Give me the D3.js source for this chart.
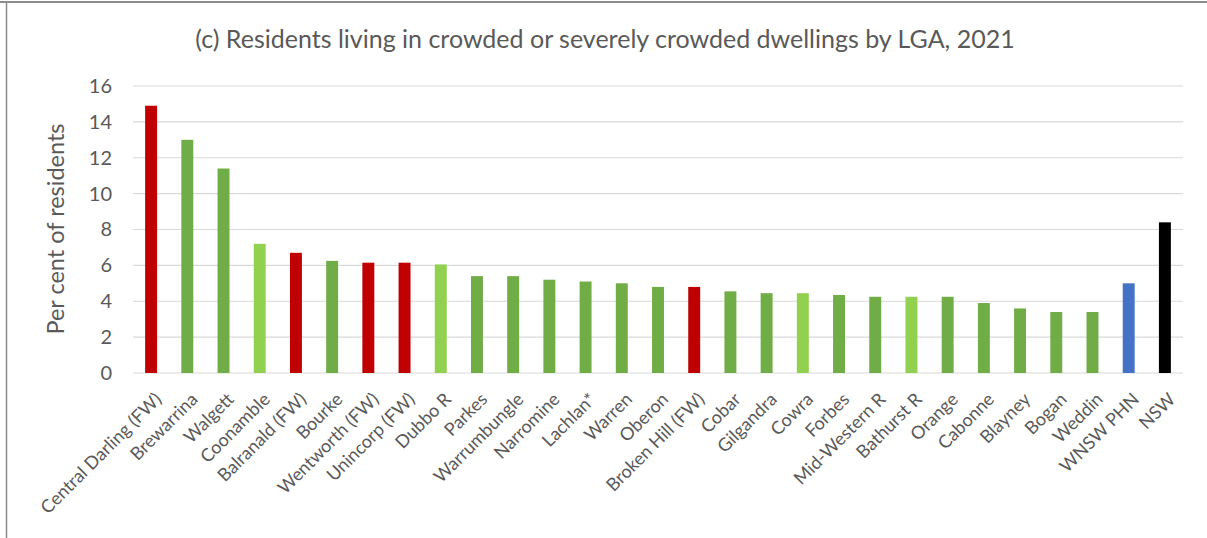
<!DOCTYPE html>
<html>
<head>
<meta charset="utf-8">
<script src="https://cdn.jsdelivr.net/npm/d3@7"></script>
<style>
  html, body { margin: 0; padding: 0; background: #fff; }
  svg { display: block; }
  text { font-family: Lato, "Open Sans", sans-serif; fill: #595959; }
</style>
</head>
<body>
<svg id="chart" width="1207" height="538"></svg>
<script>
const categories = ["Central Darling (FW)", "Brewarrina", "Walgett", "Coonamble", "Balranald (FW)", "Bourke",
  "Wentworth (FW)", "Unincorp (FW)", "Dubbo R", "Parkes", "Warrumbungle", "Narromine", "Lachlan*", "Warren",
  "Oberon", "Broken Hill (FW)", "Cobar", "Gilgandra", "Cowra", "Forbes", "Mid-Western R", "Bathurst R",
  "Orange", "Cabonne", "Blayney", "Bogan", "Weddin", "WNSW PHN", "NSW"];
const values = [14.9, 13.0, 11.4, 7.2, 6.7, 6.25, 6.15, 6.15, 6.05, 5.4, 5.4, 5.2, 5.1, 5.0,
  4.8, 4.8, 4.55, 4.45, 4.45, 4.35, 4.25, 4.25, 4.25, 3.9, 3.6, 3.4, 3.4, 5.0, 8.4];
const groups = ["farwest", "green", "green", "light", "farwest", "green", "farwest", "farwest", "light", "green",
  "green", "green", "green", "green", "green", "farwest", "green", "green", "light", "green", "green", "light",
  "green", "green", "green", "green", "green", "phn", "state"];
const yTicks = [0, 2, 4, 6, 8, 10, 12, 14, 16];
const title = "(c) Residents living in crowded or severely crowded dwellings by LGA, 2021";
const yLabel = "Per cent of residents";

const colorMap = { farwest: "#C00000", green: "#70AD47", light: "#92D050", phn: "#4472C4", state: "#000000" };

const svg = d3.select("#chart");
const plotLeft = 133, plotRight = 1183, plotTop = 86, plotBottom = 373;

// frame
svg.append("line").attr("x1", 0).attr("x2", 1207).attr("y1", 2).attr("y2", 2)
  .attr("stroke", "#8c8c8c").attr("stroke-width", 2);
svg.append("line").attr("x1", 6.5).attr("x2", 6.5).attr("y1", 2).attr("y2", 538)
  .attr("stroke", "#8c8c8c").attr("stroke-width", 1.5);

const x = d3.scaleBand().domain(categories).range([plotLeft, plotRight]).paddingInner(0.67).paddingOuter(0.335);
const y = d3.scaleLinear().domain([0, 16]).range([plotBottom, plotTop]);

// gridlines
svg.append("g").selectAll("line").data(yTicks).join("line")
  .attr("x1", plotLeft).attr("x2", plotRight)
  .attr("y1", d => y(d)).attr("y2", d => y(d))
  .attr("stroke", "#d9d9d9").attr("stroke-width", 1.2);

// y axis labels
const yAxis = d3.axisLeft(y).tickValues(yTicks).tickSize(0).tickPadding(0);
const gy = svg.append("g").attr("transform", `translate(${112},0)`).call(yAxis);
gy.select(".domain").remove();
gy.selectAll("text").style("font-size", "20px").style("font-family", "Lato, sans-serif").attr("fill", "#595959");

// bars
svg.append("g").selectAll("rect").data(categories).join("rect")
  .attr("x", d => x(d))
  .attr("width", x.bandwidth())
  .attr("y", (d, i) => y(values[i]))
  .attr("height", (d, i) => y(0) - y(values[i]))
  .attr("fill", (d, i) => colorMap[groups[i]]);

// x labels
const xAxis = d3.axisBottom(x).tickSize(0).tickPadding(0);
const gx = svg.append("g").attr("transform", `translate(0,${plotBottom})`).call(xAxis);
gx.select(".domain").remove();
gx.selectAll("text")
  .style("font-size", "18px").style("font-family", "Lato, sans-serif")
  .attr("fill", "#595959")
  .attr("text-anchor", "end")
  .attr("transform", "translate(7,23) rotate(-45)")
  .attr("dy", "0.35em").attr("y", 0).attr("x", 0);

// title
svg.append("text").attr("x", 605).attr("y", 48).attr("text-anchor", "middle")
  .style("font-size", "25px").text(title);

// y label
svg.append("text").attr("transform", `translate(64,229) rotate(-90)`).attr("text-anchor", "middle")
  .style("font-size", "23.5px").text(yLabel);
</script>
</body>
</html>
